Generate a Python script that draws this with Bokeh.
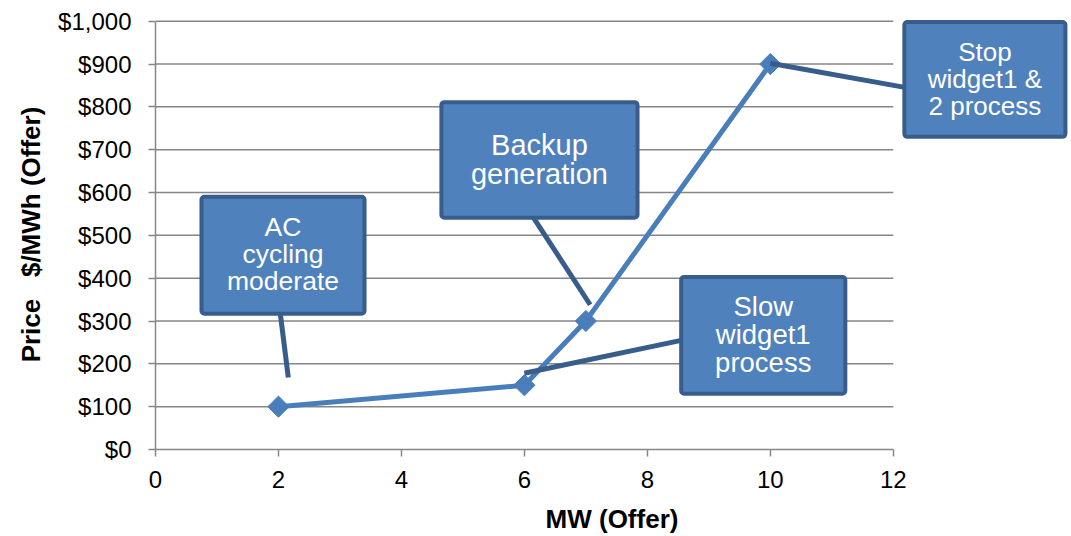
import numpy as np
from bokeh.plotting import figure
from bokeh.models import Range1d, FixedTicker, NumeralTickFormatter, ColumnDataSource
from bokeh.core.properties import value
from bokeh.embed import file_html
from bokeh.resources import INLINE

# ---- data ----
mw_offer = [2, 6, 7, 10]
price_offer = [100, 150, 300, 900]
x_ticks = [0, 2, 4, 6, 8, 10, 12]
y_ticks = [0, 100, 200, 300, 400, 500, 600, 700, 800, 900, 1000]

# ---- callouts (annotation layout) ----
callout_text = ["AC\ncycling\nmoderate", "Backup\ngeneration", "Slow\nwidget1\nprocess", "Stop\nwidget1 &\n2 process"]
callout_font = ["26.5px", "29px", "27.5px", "26px"]
box_left = [0.748, 4.65, 8.55, 12.18]
box_right = [3.40, 7.84, 11.22, 14.80]
box_top = [590, 811, 403, 998]
box_bottom = [317, 541, 130, 730]
lead_x0 = [2.03, 6.15, 8.59, 12.21]
lead_y0 = [317, 541, 256, 845]
lead_x1 = [2.16, 7.07, 6.0, 10.0]
lead_y1 = [168, 338, 178, 902]

FONT = "Liberation Sans"
GRAY = "#868686"

p = figure(width=1068, height=536, output_backend="svg", toolbar_location=None,
           x_range=Range1d(0, 14.85), y_range=Range1d(0, 1004),
           min_border_left=155, min_border_right=0, min_border_top=19, min_border_bottom=86)
p.outline_line_color = None
p.xgrid.visible = False
p.ygrid.visible = False
p.background_fill_color = "white"
p.border_fill_color = "white"

# gridlines at the y ticks, spanning 0..12
gx0 = [0] * (len(y_ticks) - 1)
gx1 = [12] * (len(y_ticks) - 1)
p.segment(x0=gx0, y0=y_ticks[1:], x1=gx1, y1=y_ticks[1:], line_color=GRAY, line_width=1.5)

# axes
for ax in (p.xaxis[0], p.yaxis[0]):
    ax.axis_line_color = GRAY
    ax.axis_line_width = 1.5
    ax.major_tick_line_color = GRAY
    ax.major_tick_line_width = 1.5
    ax.major_tick_in = 0
    ax.major_tick_out = 7
    ax.minor_tick_line_color = None
    ax.major_label_text_font = FONT
    ax.major_label_text_font_size = "24px"
    ax.major_label_text_color = "black"
    ax.axis_label_text_font = FONT
    ax.axis_label_text_font_size = "26px"
    ax.axis_label_text_font_style = "bold"
    ax.axis_label_text_color = "black"

p.xaxis.bounds = (0, 12)
p.xaxis.ticker = FixedTicker(ticks=x_ticks)
p.xaxis.axis_label = "MW (Offer)"
p.xaxis.major_label_standoff = 14
p.xaxis.axis_label_standoff = 13

p.yaxis.bounds = (0, 1000)
p.yaxis.ticker = FixedTicker(ticks=y_ticks)
p.yaxis.formatter = NumeralTickFormatter(format="$0,0")
p.yaxis.axis_label = "Price\u00a0\u00a0\u00a0$/MWh (Offer)"
p.yaxis.major_label_standoff = 17
p.yaxis.axis_label_standoff = 9

# series
LINE = "#4A7EBB"
p.line(mw_offer, price_offer, line_color=LINE, line_width=5)
p.scatter(mw_offer, price_offer, marker="square", angle=np.pi / 4, size=15,
          fill_color=LINE, line_color=LINE)

# callout leaders
DARK = "#385D8A"
p.segment(x0=lead_x0, y0=lead_y0, x1=lead_x1, y1=lead_y1, line_color=DARK, line_width=5)

# callout boxes
p.quad(left=box_left, right=box_right, top=box_top, bottom=box_bottom,
       fill_color="#4F81BD", line_color=DARK, line_width=4, border_radius=3)

cx = [(a + b) / 2 for a, b in zip(box_left, box_right)]
cy = [(a + b) / 2 + 2 for a, b in zip(box_top, box_bottom)]
src = ColumnDataSource(dict(x=cx, y=cy, t=callout_text, fs=callout_font))
p.text(x="x", y="y", text="t", source=src, text_color="white",
       text_font=value(FONT), text_font_size="fs", text_align="center",
       text_baseline="middle", text_line_height=0.9)

open("out.html", "w").write(file_html(p, INLINE))
